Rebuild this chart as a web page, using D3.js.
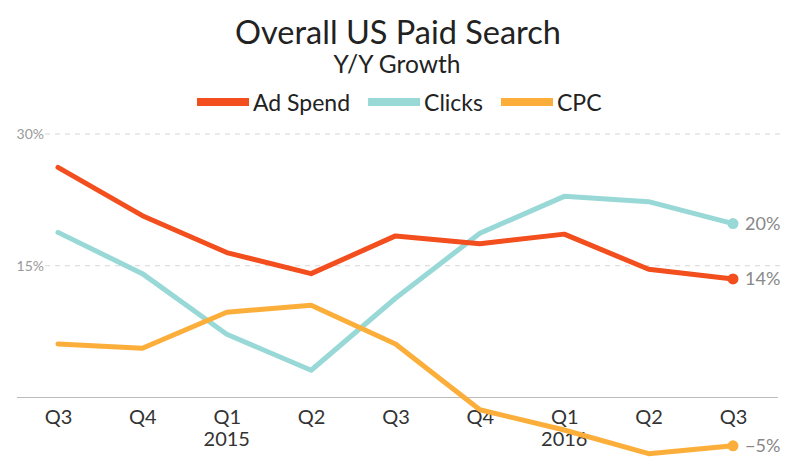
<!DOCTYPE html>
<html>
<head>
<meta charset="utf-8">
<script src="https://cdn.jsdelivr.net/npm/d3@7"></script>
<style>
  html, body { margin: 0; padding: 0; background: #fff; }
  svg { display: block; }
  text { font-family: Lato, "Open Sans", sans-serif; }
</style>
</head>
<body>
<svg id="chart" width="800" height="471"></svg>
<script>
const quarters = ["Q3", "Q4", "Q1", "Q2", "Q3", "Q4", "Q1", "Q2", "Q3"];
const years = [null, null, "2015", null, null, null, "2016", null, null];
const adSpend = [26.2, 20.7, 16.5, 14.1, 18.4, 17.5, 18.6, 14.6, 13.5];
const clicks = [18.8, 14.1, 7.2, 3.1, 11.3, 18.7, 22.9, 22.3, 19.8];
const cpc = [6.1, 5.6, 9.7, 10.5, 6.1, -1.4, -3.7, -6.4, -5.5];
const yTicks = [15, 30];
const seriesNames = ["Ad Spend", "Clicks", "CPC"];
const endLabels = ["14%", "20%", "\u22125%"];
const colors = ["#F24E1E", "#98D8D6", "#FCAE3A"];

const svg = d3.select("#chart");
const idx = quarters.map((_, i) => i);
const x = d3.scalePoint().domain(idx).range([58, 733]);
const y = d3.scaleLinear().domain([0, 30]).range([397.5, 134]);

// Title
svg.append("text").attr("x", 398).attr("y", 44).attr("text-anchor", "middle")
  .attr("font-size", 32.5).attr("fill", "#222").text("Overall US Paid Search");
svg.append("text").attr("x", 397).attr("y", 73).attr("text-anchor", "middle")
  .attr("font-size", 24.5).attr("fill", "#222").text("Y/Y Growth");

// Legend
let lx = 197;
seriesNames.forEach((name, i) => {
  svg.append("rect").attr("x", lx).attr("y", 98).attr("width", 52).attr("height", 8)
    .attr("fill", colors[i]);
  const t = svg.append("text").attr("x", lx + 56).attr("y", 111)
    .attr("font-size", 23).attr("fill", "#222").text(name);
  lx += 56 + t.node().getComputedTextLength() + 18;
});

// Gridlines
const yAxis = d3.axisLeft(y).tickValues(yTicks).tickSize(0).tickFormat(d => d + "%");
const gy = svg.append("g").attr("transform", "translate(45,0)").call(yAxis);
gy.select(".domain").remove();
gy.selectAll("text").attr("font-size", 14).attr("fill", "#999").attr("dx", 2)
  .style("font-family", "Lato, sans-serif");
svg.append("g").selectAll("line").data(yTicks).join("line")
  .attr("x1", 45).attr("x2", 780)
  .attr("y1", d => y(d)).attr("y2", d => y(d))
  .attr("stroke", "#d6d6d6").attr("stroke-width", 1.2).attr("stroke-dasharray", "5,5");

// X axis
const xAxis = d3.axisBottom(x).tickSize(0).tickFormat(i => quarters[i]);
const gx = svg.append("g").attr("transform", `translate(0,${y(0)})`).call(xAxis);
gx.select(".domain").remove();
gx.selectAll("text").attr("font-size", 20).attr("fill", "#333").attr("dy", 0)
  .attr("y", 26).style("font-family", "Lato, sans-serif");
svg.append("line").attr("x1", 17).attr("x2", 778).attr("y1", y(0)).attr("y2", y(0))
  .attr("stroke", "#bbb").attr("stroke-width", 1.2);
svg.append("g").selectAll("text").data(idx.filter(i => years[i])).join("text")
  .attr("x", i => x(i)).attr("y", y(0) + 48).attr("text-anchor", "middle")
  .attr("font-size", 20).attr("fill", "#333").text(i => years[i]);

// Lines
const data = [adSpend, clicks, cpc];
const line = d3.line().x((d, i) => x(i)).y(d => y(d));
[1, 2, 0].forEach(s => {
  svg.append("path").datum(data[s]).attr("d", line).attr("fill", "none")
    .attr("stroke", colors[s]).attr("stroke-width", 5)
    .attr("stroke-linejoin", "round").attr("stroke-linecap", "round");
  const last = data[s].length - 1;
  svg.append("circle").attr("cx", x(last)).attr("cy", y(data[s][last])).attr("r", 5.5)
    .attr("fill", colors[s]);
  svg.append("text").attr("x", x(last) + 12).attr("y", y(data[s][last]))
    .attr("dy", "0.35em").attr("font-size", 18).attr("fill", "#888").text(endLabels[s]);
});
</script>
</body>
</html>
